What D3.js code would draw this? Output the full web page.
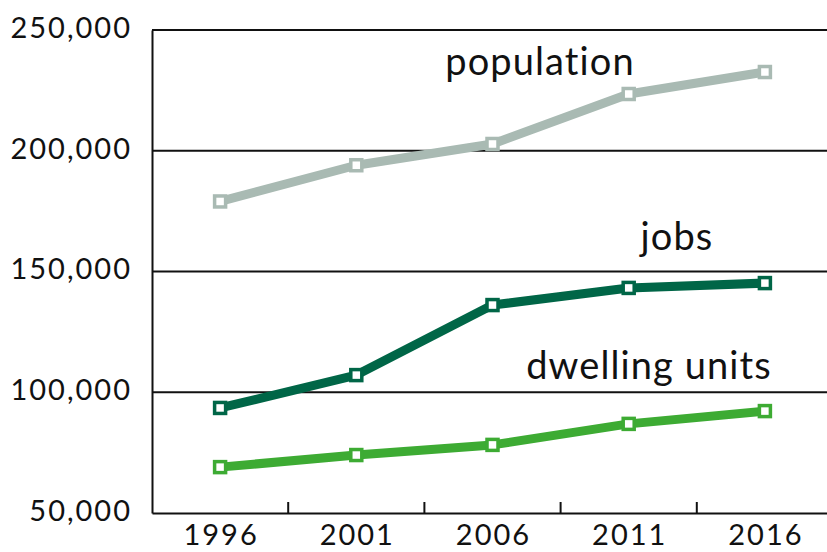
<!DOCTYPE html>
<html><head><meta charset="utf-8">
<script src="https://cdn.jsdelivr.net/npm/d3@7"></script>
<style>
body{margin:0;background:#fff;}
text{font-family:"Lato","Open Sans",sans-serif;fill:#111;}
</style></head>
<body><svg id="c" width="827" height="552"></svg>
<script>
const years = ["1996","2001","2006","2011","2016"];
const population = [179000, 194000, 202800, 223500, 232600];
const jobs = [93500, 107100, 136100, 143200, 145200];
const dwellings = [69000, 74000, 78200, 86900, 92200];
const yTicks = [50000, 100000, 150000, 200000, 250000];
const seriesNames = ["population", "jobs", "dwelling units"];
const seriesColors = ["#a9bab3", "#006647", "#3dab33"];

const svg = d3.select("#c");
const m = {l:152, t:30, b:39};
const W = 827, H = 552;
const x = d3.scaleBand().domain(years).range([m.l, 833]);
const y = d3.scaleLinear().domain([50000, 250000]).range([H - m.b, m.t]);

// gridlines
svg.append("g").selectAll("line").data(yTicks.slice(1)).join("line")
  .attr("x1", m.l).attr("x2", W).attr("y1", d => y(d)).attr("y2", d => y(d))
  .attr("stroke", "#111").attr("stroke-width", 2);

// y axis
const ya = svg.append("g").attr("transform", `translate(${m.l},0)`)
  .call(d3.axisLeft(y).tickValues(yTicks).tickFormat(d3.format(",")).tickSize(0).tickPadding(20));
ya.select(".domain").attr("stroke", "#111").attr("stroke-width", 2);
ya.selectAll("text").attr("font-size", 29).style("font-family", "Lato")
  .style("letter-spacing", "2px").attr("fill", "#111").attr("dy", "0.25em");

// x axis
const xa = svg.append("g").attr("transform", `translate(0,${y(50000)})`)
  .call(d3.axisBottom(x).tickSize(0).tickPadding(11));
xa.select(".domain").attr("stroke", "#111").attr("stroke-width", 2);
xa.selectAll("text").attr("font-size", 29).style("font-family", "Lato")
  .style("letter-spacing", "2px").attr("dx", "1px").attr("fill", "#111");
// tick marks between categories
xa.selectAll("line.sep").data(years.slice(1)).join("line").attr("class", "sep")
  .attr("x1", d => x(d)).attr("x2", d => x(d)).attr("y1", 0).attr("y2", -11)
  .attr("stroke", "#111").attr("stroke-width", 2);

const allSeries = [population, jobs, dwellings];
const line = d3.line().x((d, i) => x(years[i]) + x.bandwidth()/2).y(d => y(d));
allSeries.forEach((s, k) => {
  const g = svg.append("g");
  g.append("path").datum(s).attr("d", line).attr("fill", "none")
    .attr("stroke", seriesColors[k]).attr("stroke-width", 9).attr("stroke-linejoin", "round");
  g.selectAll("rect").data(s).join("rect")
    .attr("x", (d, i) => x(years[i]) + x.bandwidth()/2 - 5.5)
    .attr("y", d => y(d) - 5.5)
    .attr("width", 11).attr("height", 11)
    .attr("fill", "#fff").attr("stroke", seriesColors[k]).attr("stroke-width", 3.5);
});

// series labels
const labelPos = [
  {x: 540, y: 75, i: 0},
  {x: 677, y: 250, i: 1},
  {x: 649, y: 379, i: 2}
];
svg.append("g").selectAll("text").data(labelPos).join("text")
  .attr("x", d => d.x).attr("y", d => d.y).attr("text-anchor", "middle")
  .attr("font-size", 38).style("letter-spacing", "1.1px").text(d => seriesNames[d.i]);
</script></body></html>
